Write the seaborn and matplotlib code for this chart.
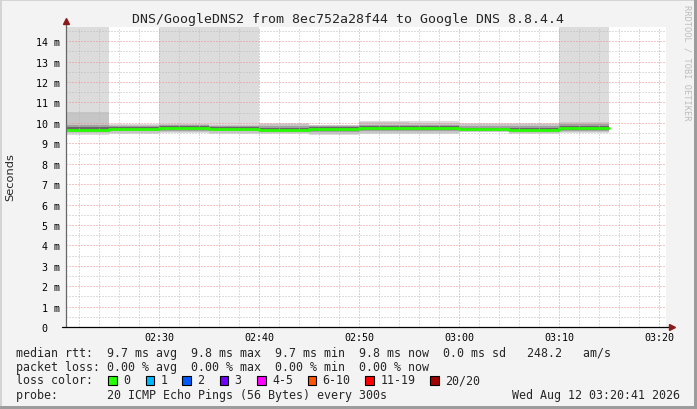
import numpy as np
import pandas as pd
import matplotlib
matplotlib.use("Agg")
import matplotlib.pyplot as plt
import seaborn as sns
from matplotlib.patches import Rectangle
from matplotlib.lines import Line2D
from matplotlib.ticker import FixedLocator, MultipleLocator

# ---------------- data ----------------
title = "DNS/GoogleDNS2 from 8ec752a28f44 to Google DNS 8.8.4.4"
x_start = "02:20:40"
x_end = "03:20:40"
step_starts = ["02:20", "02:25", "02:30", "02:35", "02:40", "02:45",
               "02:50", "02:55", "03:00", "03:05", "03:10"]
step_end = "03:15"
# RTT values in ms (drawn on the "m" scale)
median_rtt = [9.66, 9.72, 9.76, 9.69, 9.67, 9.71, 9.75, 9.74, 9.69, 9.64, 9.75]
smoke_max = [20.0, 9.95, 20.0, 20.0, 9.98, 9.92, 10.08, 10.08, 10.00, 9.98, 20.0]
smoke_hi2 = [10.55, 9.92, 9.95, 9.92, 9.94, 9.88, 10.02, 10.00, 9.95, 9.94, 10.05]
smoke_hi3 = [9.90, 9.87, 9.90, 9.85, 9.86, 9.83, 9.92, 9.90, 9.85, 9.86, 9.95]
smoke_hi4 = [9.78, 9.82, 9.85, 9.78, 9.76, 9.80, 9.85, 9.83, 9.77, 9.74, 9.85]
smoke_lo4 = [9.62, 9.65, 9.68, 9.63, 9.62, 9.62, 9.66, 9.66, 9.64, 9.58, 9.67]
smoke_lo3 = [9.57, 9.58, 9.60, 9.58, 9.55, 9.55, 9.58, 9.58, 9.58, 9.53, 9.60]
smoke_lo2 = [9.50, 9.52, 9.54, 9.52, 9.50, 9.45, 9.50, 9.50, 9.55, 9.50, 9.55]
smoke_min = [9.42, 9.46, 9.50, 9.48, 9.46, 9.40, 9.45, 9.46, 9.53, 9.48, 9.50]

xtick_labels = ["02:30", "02:40", "02:50", "03:00", "03:10", "03:20"]
ytick_values = [0, 1, 2, 3, 4, 5, 6, 7, 8, 9, 10, 11, 12, 13, 14]
ytick_labels = ["0  ", "1 m", "2 m", "3 m", "4 m", "5 m", "6 m", "7 m",
                "8 m", "9 m", "10 m", "11 m", "12 m", "13 m", "14 m"]
y_label = "Seconds"

legend_rtt = "median rtt:  9.7 ms avg  9.8 ms max  9.7 ms min  9.8 ms now  0.0 ms sd   248.2   am/s"
legend_loss = "packet loss: 0.00 % avg  0.00 % max  0.00 % min  0.00 % now"
loss_color_title = "loss color:"
loss_labels = ["0", "1", "2", "3", "4-5", "6-10", "11-19", "20/20"]
loss_colors = ["#26ff00", "#00b8ff", "#0059ff", "#7300ff", "#ff00ff",
               "#ff5500", "#ff0000", "#a00000"]
probe_text = "probe:       20 ICMP Echo Pings (56 Bytes) every 300s"
date_text = "Wed Aug 12 03:20:41 2026"
watermark = "RRDTOOL / TOBI OETIKER"


def tmin(s):
    p = [int(v) for v in s.split(":")]
    while len(p) < 3:
        p.append(0)
    return p[0] * 60 + p[1] + p[2] / 60.0


# ---------------- figure ----------------
sns.set_style("white")
plt.rcParams["font.family"] = ["DejaVu Sans Mono", "DejaVu Sans"]

W, H = 697, 410
fig = plt.figure(figsize=(W / 100, H / 100), dpi=100, facecolor="#f3f3f3")


def fx(x):
    return x / W


def fy(y):
    return 1 - y / H


# frame
fig.add_artist(Rectangle((0, fy(2)), 1, 2 / H, transform=fig.transFigure,
                         color="#d4d4d4", lw=0, zorder=0))
fig.add_artist(Rectangle((0, 0), 2 / W, 1, transform=fig.transFigure,
                         color="#d4d4d4", lw=0, zorder=0))
fig.add_artist(Rectangle((fx(694), 0), 3 / W, 1, transform=fig.transFigure,
                         color="#9c9c9c", lw=0, zorder=0))
fig.add_artist(Rectangle((0, 0), 1, 3 / H, transform=fig.transFigure,
                         color="#9c9c9c", lw=0, zorder=0))

ax = fig.add_axes([fx(66), 82 / H, 600 / W, 300 / H])
ax.set_facecolor("white")

xs = [tmin(s) for s in step_starts] + [tmin(step_end)]


def ext(a):
    return list(a) + [a[-1]]


bands = [
    (smoke_min, smoke_max, "#dcdcdc"),
    (smoke_lo2, smoke_hi2, "#c6c6c6"),
    (smoke_lo3, smoke_hi3, "#a0a0a0"),
    (smoke_lo4, smoke_hi4, "#686868"),
]
for lo, hi, col in bands:
    ax.fill_between(xs, ext(lo), ext(hi), step="post", color=col, lw=0, zorder=1)

df = pd.DataFrame({"t": xs, "rtt": ext(median_rtt)})
sns.lineplot(data=df, x="t", y="rtt", ax=ax, drawstyle="steps-post",
             color=loss_colors[0], lw=2.0, estimator=None, sort=False, zorder=4)

ax.set_xlim(tmin(x_start), tmin(x_end))
ax.set_ylim(0, 300 / 20.41)

ax.xaxis.set_major_locator(FixedLocator([tmin(s) for s in xtick_labels]))
ax.set_xticklabels(xtick_labels)
ax.xaxis.set_minor_locator(MultipleLocator(2))
ax.yaxis.set_major_locator(FixedLocator(ytick_values))
ax.set_yticklabels(ytick_labels)
ax.yaxis.set_minor_locator(MultipleLocator(0.5))

ax.set_axisbelow(False)
ax.grid(which="minor", color="#bcbcbc", ls=(0, (1, 2)), lw=0.72)
ax.grid(which="major", color="#ee8c8c", ls=(0, (1, 2)), lw=0.72)

ax.tick_params(axis="x", which="both", length=0, pad=3.6, labelsize=7.2,
               colors="#000000")
ax.tick_params(axis="y", which="major", length=2.5, width=0.7, color="#888888",
               pad=1.5, labelsize=7.2, labelcolor="#000000")
ax.tick_params(axis="y", which="minor", length=1.2, width=0.7, color="#aaaaaa")
ax.set_xlabel("")
ax.set_ylabel("")
for sp in ax.spines.values():
    sp.set_visible(False)

# axes lines and arrows
ax.add_line(Line2D([0, 0], [0, 1.02], transform=ax.transAxes, color="#666666",
                   lw=0.9, clip_on=False, zorder=5))
ax.add_line(Line2D([-0.007, 1.01], [0, 0], transform=ax.transAxes, color="black",
                   lw=0.9, clip_on=False, zorder=5))
ax.plot([1.01], [0], marker=">", ms=4, color="#8b1a1a", transform=ax.transAxes,
        clip_on=False, zorder=6)
ax.plot([0], [1.02], marker="^", ms=4, color="#8b1a1a", transform=ax.transAxes,
        clip_on=False, zorder=6)

# texts
fig.text(fx(348.5), fy(19), title, ha="center", va="center", fontsize=9.5)
fig.text(fx(10), fy(177), y_label, ha="center", va="center", rotation=90,
         fontsize=8.2, family="DejaVu Sans")
fig.text(fx(687.5), fy(5), watermark, ha="center", va="top", rotation=270,
         fontsize=6.2, color="#bdbdbd")

fs = 8.4
fig.text(fx(15.5), fy(354), legend_rtt, ha="left", va="center", fontsize=fs)
fig.text(fx(15.5), fy(368), legend_loss, ha="left", va="center", fontsize=fs)
fig.text(fx(15.5), fy(381), loss_color_title, ha="left", va="center", fontsize=fs)
sq_x = [108.4, 145.8, 182.2, 219.6, 257.3, 307.6, 365.3, 430.2]
for x0, lab, col in zip(sq_x, loss_labels, loss_colors):
    fig.add_artist(Rectangle((fx(x0), fy(385.5)), 8.5 / W, 8.5 / H,
                             transform=fig.transFigure, facecolor=col,
                             edgecolor="black", lw=0.8))
    fig.text(fx(x0 + 15), fy(381), lab, ha="left", va="center", fontsize=fs)
fig.text(fx(15.5), fy(396), probe_text, ha="left", va="center", fontsize=fs)
fig.text(fx(680.5), fy(396), date_text, ha="right", va="center", fontsize=fs)

fig.savefig("out.png", dpi=100, facecolor=fig.get_facecolor())
